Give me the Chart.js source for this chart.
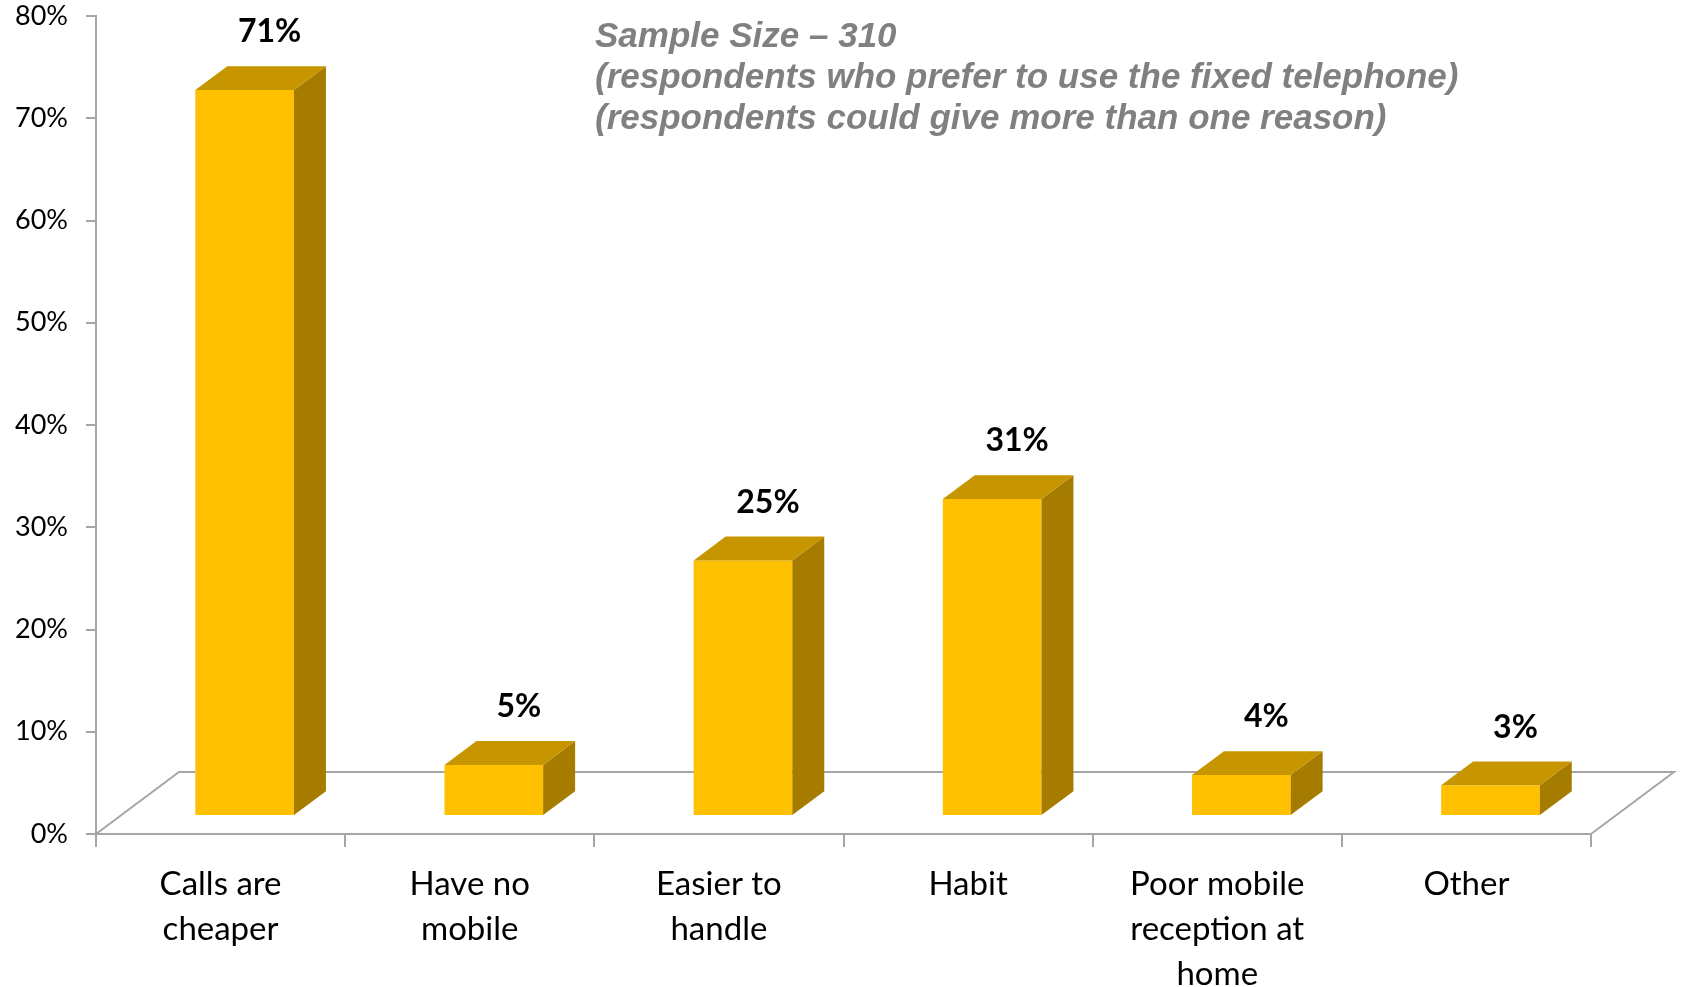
<!DOCTYPE html>
<html>
<head>
<meta charset="utf-8">
<script src="https://cdn.jsdelivr.net/npm/chart.js@4.4.1/dist/chart.umd.min.js"></script>
<style>
  html, body { margin: 0; padding: 0; background: #ffffff; }
  canvas { display: block; }
</style>
</head>
<body>
<canvas id="chart" width="1682" height="987"></canvas>
<script>
// Reasons for preferring the fixed telephone (share of respondents, %)
const categories = [
  ['Calls are', 'cheaper'],
  ['Have no', 'mobile'],
  ['Easier to', 'handle'],
  ['Habit'],
  ['Poor mobile', 'reception at', 'home'],
  ['Other']
];
const shares = [71, 5, 25, 31, 4, 3];
const axisMin = 0;
const axisMax = 80;
const axisStep = 10;
const noteLines = [
  'Sample Size \u2013 310',
  '(respondents who prefer to use the fixed telephone)',
  '(respondents could give more than one reason)'
];

// Oblique 3D look: floor depth and where the bars sit inside it
const FLOOR_DX = 83;
const FLOOR_DY = 62;
const BAR_FRONT = 0.29;   // fraction of floor depth in front of the bars
const BAR_DEPTH = 0.385;  // bar depth as a fraction of floor depth
const FRONT_COLOR = '#FFC000';
const TOP_COLOR = '#C69500';
const SIDE_COLOR = '#A67C00';
const AXIS_COLOR = '#a6a6a6';

const bars3d = {
  id: 'bars3d',
  beforeDatasetsDraw(chart) {
    const ctx = chart.ctx;
    const a = chart.chartArea;
    // floor outline (back edge and the two receding sides)
    ctx.save();
    ctx.strokeStyle = AXIS_COLOR;
    ctx.lineWidth = 2;
    ctx.beginPath();
    ctx.moveTo(a.left, a.bottom);
    ctx.lineTo(a.left + FLOOR_DX, a.bottom - FLOOR_DY);
    ctx.lineTo(a.right + FLOOR_DX, a.bottom - FLOOR_DY);
    ctx.lineTo(a.right, a.bottom);
    ctx.stroke();
    ctx.restore();
    // push the bars back into the floor
    ctx.save();
    ctx.translate(FLOOR_DX * BAR_FRONT, -FLOOR_DY * BAR_FRONT);
  },
  afterDatasetsDraw(chart) {
    const ctx = chart.ctx;
    const meta = chart.getDatasetMeta(0);
    const ddx = FLOOR_DX * BAR_DEPTH;
    const ddy = FLOOR_DY * BAR_DEPTH;
    meta.data.forEach((bar) => {
      const p = bar.getProps(['x', 'y', 'base', 'width'], true);
      const l = p.x - p.width / 2;
      const r = p.x + p.width / 2;
      // right side face
      ctx.fillStyle = SIDE_COLOR;
      ctx.beginPath();
      ctx.moveTo(r, p.y);
      ctx.lineTo(r + ddx, p.y - ddy);
      ctx.lineTo(r + ddx, p.base - ddy);
      ctx.lineTo(r, p.base);
      ctx.closePath();
      ctx.fill();
      // top face
      ctx.fillStyle = TOP_COLOR;
      ctx.beginPath();
      ctx.moveTo(l, p.y);
      ctx.lineTo(l + ddx, p.y - ddy);
      ctx.lineTo(r + ddx, p.y - ddy);
      ctx.lineTo(r, p.y);
      ctx.closePath();
      ctx.fill();
    });
    ctx.restore();

    // value labels above each column
    ctx.save();
    ctx.fillStyle = '#000000';
    ctx.font = 'bold 32px Lato, "Open Sans", sans-serif';
    ctx.textAlign = 'center';
    ctx.textBaseline = 'middle';
    meta.data.forEach((bar, i) => {
      const p = bar.getProps(['x', 'y'], true);
      const fx = p.x + FLOOR_DX * BAR_FRONT;
      const fy = p.y - FLOOR_DY * BAR_FRONT;
      ctx.fillText(shares[i] + '%', fx + 25, fy - 58);
    });
    ctx.restore();
  },
  afterDraw(chart) {
    const ctx = chart.ctx;
    ctx.save();
    ctx.fillStyle = '#808080';
    ctx.font = 'italic bold 35px "Liberation Sans", Arial, sans-serif';
    ctx.textAlign = 'left';
    ctx.textBaseline = 'middle';
    noteLines.forEach((t, i) => ctx.fillText(t, 595, 37 + i * 41));
    ctx.restore();
  }
};

new Chart(document.getElementById('chart'), {
  type: 'bar',
  data: {
    labels: categories,
    datasets: [{
      data: shares,
      backgroundColor: FRONT_COLOR,
      borderWidth: 0,
      categoryPercentage: 1,
      barPercentage: 0.396
    }]
  },
  options: {
    responsive: false,
    animation: false,
    events: [],
    layout: { padding: { top: 16, right: 91, left: 0, bottom: 0 } },
    plugins: {
      legend: { display: false },
      tooltip: { enabled: false },
      title: { display: false }
    },
    scales: {
      x: {
        offset: true,
        afterFit(scale) { scale.height = 153; },
        grid: {
          display: true,
          offset: true,
          drawOnChartArea: false,
          drawTicks: true,
          tickLength: 13,
          color: AXIS_COLOR,
          lineWidth: 2
        },
        border: { display: true, color: AXIS_COLOR, width: 2 },
        ticks: {
          color: '#000000',
          padding: 15,
          maxRotation: 0,
          autoSkip: false,
          font: { family: 'Lato, "Open Sans", sans-serif', size: 33, lineHeight: 1.36 }
        }
      },
      y: {
        min: axisMin,
        max: axisMax,
        afterFit(scale) {
          scale.width = 96;
          scale.paddingTop = 0;
          scale.paddingBottom = 0;
        },
        grid: {
          display: true,
          drawOnChartArea: false,
          drawTicks: true,
          tickLength: 10,
          color: AXIS_COLOR,
          lineWidth: 2
        },
        border: { display: true, color: AXIS_COLOR, width: 2 },
        ticks: {
          stepSize: axisStep,
          color: '#000000',
          padding: 18,
          font: { family: 'Lato, "Open Sans", sans-serif', size: 27 },
          callback: (v) => v + '%'
        }
      }
    }
  },
  plugins: [bars3d]
});
</script>
</body>
</html>
